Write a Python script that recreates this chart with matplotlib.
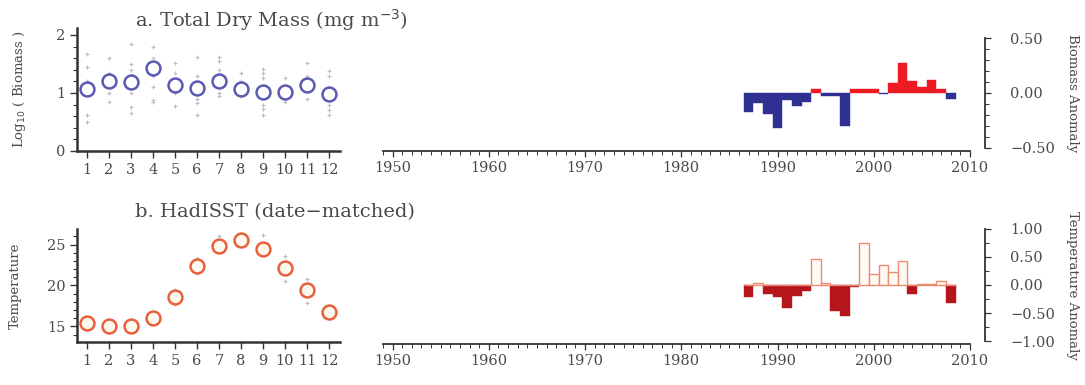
import matplotlib
matplotlib.use("Agg")
import matplotlib.pyplot as plt
from matplotlib.ticker import MultipleLocator
import numpy as np

plt.rcParams['font.family'] = ['DejaVu Serif', 'Liberation Serif']

# ---------------- data ----------------
months = list(range(1, 13))
biomass_mean = [1.07, 1.20, 1.19, 1.43, 1.14, 1.08, 1.20, 1.07, 1.01, 1.01, 1.14, 0.99]
biomass_obs = [
    [1.68, 1.45, 1.2, 0.62, 0.5],
    [1.6, 1.35, 1.0, 0.85],
    [1.85, 1.5, 1.4, 1.0, 0.75, 0.65],
    [1.8, 1.6, 1.3, 1.1, 0.88, 0.85],
    [1.52, 1.35, 1.0, 0.78],
    [1.62, 1.3, 0.9, 0.82, 0.62],
    [1.62, 1.55, 1.4, 1.0, 0.95],
    [1.35, 1.2, 0.95],
    [1.42, 1.35, 1.25, 0.8, 0.72, 0.62],
    [1.25, 0.9, 0.85],
    [1.52, 1.3, 0.9],
    [1.38, 1.3, 0.8, 0.7, 0.62],
]
temp_mean = [15.4, 15.0, 15.1, 16.0, 18.6, 22.4, 24.85, 25.5, 24.5, 22.1, 19.5, 16.8]
temp_obs = [
    [16.0, 14.8], [15.3], [14.6], [16.5], [19.5, 17.8], [23.3, 21.5],
    [26.0, 24.2], [26.0], [26.2, 23.8], [23.6, 20.6], [20.8, 17.9], [17.3, 16.0],
]
years = list(range(1987, 2009))
biomass_anom = [-0.17, -0.09, -0.19, -0.32, -0.06, -0.12, -0.08, 0.04, -0.03, -0.03,
                -0.30, 0.04, 0.035, 0.035, -0.01, 0.09, 0.27, 0.11, 0.055, 0.115, 0.04, -0.055]
temp_anom = [-0.22, 0.035, -0.16, -0.22, -0.41, -0.20, -0.10, 0.46, 0.03, -0.46, -0.55,
             -0.04, 0.74, 0.20, 0.36, 0.24, 0.43, -0.16, 0.01, 0.02, 0.08, -0.32]

month_labels = [str(m) for m in months]
decade_ticks = [1950, 1960, 1970, 1980, 1990, 2000, 2010]

# ---------------- styling ----------------
W, H = 1085, 385
fig = plt.figure(figsize=(W / 100, H / 100), dpi=100)
txt = '#4a4a4a'
spc = '#333333'
FS = 10.5
LFS = 9.5

def ax_px(x0, y0, x1, y1):
    return fig.add_axes([x0 / W, 1 - y1 / H, (x1 - x0) / W, (y1 - y0) / H])

def style_left(ax):
    for s in ['top', 'right']:
        ax.spines[s].set_visible(False)
    for s in ['left', 'bottom']:
        ax.spines[s].set_color(spc)
        ax.spines[s].set_linewidth(1.8)
    ax.tick_params(colors=spc, labelcolor=txt, labelsize=FS, width=1.0, length=5, direction='out')
    ax.tick_params(which='minor', length=3, width=0.8, colors=spc)
    ax.set_xlim(0.55, 12.5)
    ax.set_xticks(months)
    ax.set_xticklabels(month_labels)

def style_right(ax, ybounds, majors, minor_step, ylabel):
    for s in ['top', 'left']:
        ax.spines[s].set_visible(False)
    ax.spines['bottom'].set_color(spc)
    ax.spines['bottom'].set_linewidth(1.3)
    ax.spines['right'].set_color(spc)
    ax.spines['right'].set_linewidth(1.3)
    ax.spines['right'].set_position(('outward', 10.8))
    ax.spines['right'].set_bounds(*ybounds)
    ax.yaxis.set_ticks_position('right')
    ax.yaxis.set_label_position('right')
    ax.set_yticks(majors)
    ax.set_yticklabels([f"{v:.2f}".replace('-', '\u2212') for v in majors])
    ax.yaxis.set_minor_locator(MultipleLocator(minor_step))
    ax.set_xlim(1949, 2010)
    ax.set_xticks(decade_ticks)
    ax.set_xticklabels([str(d) for d in decade_ticks])
    ax.xaxis.set_minor_locator(MultipleLocator(1))
    ax.tick_params(colors=spc, labelcolor=txt, labelsize=FS, width=0.9, length=4, direction='out')
    ax.tick_params(which='minor', length=3, width=0.7, colors=spc)
    ax.tick_params(axis='y', which='major', pad=14)
    ax.set_ylabel(ylabel, rotation=270, fontsize=LFS, color=txt, va='center')
    ax.yaxis.set_label_coords((1073 - 383) / 587, 0.5)

# ---------------- panel a (left) ----------------
axa = ax_px(77, 28, 340, 151)
style_left(axa)
for m, obs in zip(months, biomass_obs):
    axa.plot([m] * len(obs), obs, '+', color='#bcbccc', ms=3.5, mew=0.8, zorder=1)
axa.plot(months, biomass_mean, 'o', ms=10, mfc='white', mec='#5a5ab4', mew=1.8, zorder=3)
axa.set_ylim(0, 2.12)
axa.set_yticks([0, 1, 2])
axa.yaxis.set_minor_locator(MultipleLocator(0.2))
axa.set_ylabel('Log$_{10}$ ( Biomass )', fontsize=LFS, color=txt, va='center')
axa.yaxis.set_label_coords((20 - 77) / 263, 0.5)

# ---------------- panel a (right) ----------------
axar = ax_px(383, 35, 970, 151)
axar.set_ylim(-0.53, 0.53)
cols_a = ['#2e3192' if v < 0 else '#ed1c24' for v in biomass_anom]
axar.bar(years, biomass_anom, width=1.0, color=cols_a, edgecolor=cols_a, linewidth=0.3)
style_right(axar, (-0.5, 0.5), [-0.5, 0.0, 0.5], 0.1, 'Biomass Anomaly')

# ---------------- panel b (left) ----------------
axb = ax_px(77, 229, 340, 342)
style_left(axb)
for m, obs in zip(months, temp_obs):
    axb.plot([m] * len(obs), obs, '+', color='#bcbcbc', ms=3.5, mew=0.8, zorder=1)
axb.plot(months, temp_mean, 'o', ms=10, mfc='#fff8ee', mec='#e8603c', mew=1.8, zorder=3)
axb.set_ylim(13.1, 26.9)
axb.set_yticks([15, 20, 25])
axb.yaxis.set_minor_locator(MultipleLocator(1))
axb.set_ylabel('Temperature', fontsize=LFS, color=txt, va='center')
axb.yaxis.set_label_coords((15 - 77) / 263, 0.5)

# ---------------- panel b (right) ----------------
axbr = ax_px(383, 226, 970, 344)
axbr.set_ylim(-1.05, 1.05)
neg = [v if v < 0 else 0 for v in temp_anom]
pos = [v if v > 0 else 0 for v in temp_anom]
axbr.bar(years, neg, width=1.0, color='#b5161c', edgecolor='#b5161c', linewidth=0.3)
axbr.bar(years, pos, width=1.0, color='#fffaf4', edgecolor='#ec8a70', linewidth=1.0)
style_right(axbr, (-1.0, 1.0), [-1.0, -0.5, 0.0, 0.5, 1.0], 0.25, 'Temperature Anomaly')

# ---------------- titles ----------------
fig.text(135 / W, 1 - 20 / H, 'a. Total Dry Mass (mg m$^{-3}$)', fontsize=14, color=txt,
         ha='left', va='center')
fig.text(135 / W, 1 - 212 / H, 'b. HadISST (date\u2212matched)', fontsize=14, color=txt,
         ha='left', va='center')

fig.savefig('out.png', dpi=100)
